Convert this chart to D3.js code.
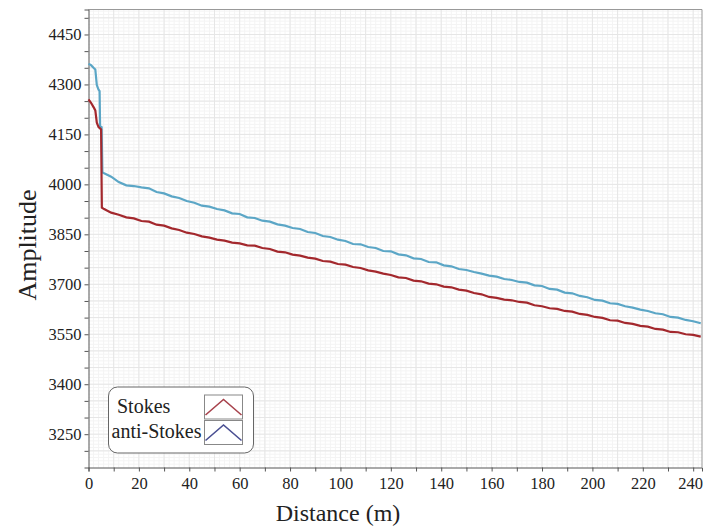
<!DOCTYPE html>
<html>
<head>
<meta charset="utf-8">
<script src="https://cdn.jsdelivr.net/npm/d3@7"></script>
<style>
  body { margin: 0; background: #fff; }
  text { font-family: "Liberation Serif", "DejaVu Serif", serif; fill: #222; }
</style>
</head>
<body>
<div id="chart"></div>
<script>
// head of each trace (before the big drop near 5 m)
var stokesHeadDist = [0, 1, 2, 2.7, 3.3, 4.0, 4.6, 5.0, 5.3];
var stokesHeadAmp  = [4255, 4245, 4232, 4222, 4185, 4172, 4168, 4165, 3930];
var antiHeadDist   = [0, 1, 2, 2.7, 3.3, 4.0, 4.4, 4.6, 5.2, 5.5];
var antiHeadAmp    = [4362, 4358, 4350, 4345, 4298, 4284, 4280, 4175, 4172, 4036];

// rest of the fibre, sampled every 3 m from 6 m to 243 m
var tailDist = d3.range(6, 244, 3);
var stokesTailAmp = [3927, 3915, 3909, 3901, 3898, 3890, 3888, 3879, 3876, 3868,
                     3863, 3855, 3851, 3844, 3840, 3834, 3831, 3825, 3823, 3817,
                     3816, 3809, 3806, 3798, 3796, 3789, 3786, 3780, 3777, 3770,
                     3768, 3761, 3759, 3752, 3749, 3742, 3738, 3732, 3728, 3721,
                     3719, 3711, 3709, 3702, 3700, 3693, 3691, 3684, 3681, 3674,
                     3670, 3662, 3659, 3654, 3652, 3647, 3645, 3637, 3634, 3628,
                     3626, 3620, 3618, 3611, 3608, 3602, 3599, 3592, 3591, 3584,
                     3581, 3575, 3573, 3566, 3564, 3557, 3556, 3550, 3548, 3543];
var antiTailAmp   = [4034, 4023, 4007, 3997, 3995, 3991, 3988, 3977, 3973, 3964,
                     3959, 3950, 3945, 3936, 3933, 3926, 3922, 3913, 3911, 3901,
                     3899, 3891, 3888, 3880, 3876, 3869, 3866, 3857, 3854, 3845,
                     3842, 3834, 3830, 3821, 3820, 3812, 3809, 3800, 3799, 3790,
                     3787, 3778, 3776, 3767, 3766, 3757, 3754, 3746, 3743, 3737,
                     3732, 3726, 3723, 3716, 3713, 3707, 3705, 3697, 3695, 3686,
                     3684, 3675, 3673, 3665, 3661, 3653, 3651, 3643, 3641, 3634,
                     3630, 3624, 3620, 3613, 3610, 3602, 3600, 3593, 3589, 3583];

var xTicks = d3.range(0, 241, 20);
var yTicks = [3250, 3400, 3550, 3700, 3850, 4000, 4150, 4300, 4450];
var seriesNames = ["Stokes", "anti-Stokes"];

var W = 704, H = 529;
var pLeft = 88.5, pRight = 702, pTop = 9.5, pBottom = 467.5;

var svg = d3.select("#chart").append("svg")
            .attr("width", W)
            .attr("height", H);

var x = d3.scaleLinear().domain([0, 243.5]).range([pLeft, pRight]);
var y = d3.scaleLinear().domain([3150, 4525]).range([pBottom, pTop]);

// grid: fine then coarse
var grid = svg.append("g");
grid.selectAll(".vminor").data(d3.range(2, 244, 2)).enter().append("line")
    .attr("x1", d => x(d)).attr("x2", d => x(d))
    .attr("y1", pTop).attr("y2", pBottom)
    .attr("stroke", "#f4f4f4");
grid.selectAll(".hminor").data(d3.range(3160, 4525, 10)).enter().append("line")
    .attr("x1", pLeft).attr("x2", pRight)
    .attr("y1", d => y(d)).attr("y2", d => y(d))
    .attr("stroke", "#f4f4f4");
grid.selectAll(".vmajor").data(d3.range(10, 244, 10)).enter().append("line")
    .attr("x1", d => x(d)).attr("x2", d => x(d))
    .attr("y1", pTop).attr("y2", pBottom)
    .attr("stroke", "#e6e6e6");
grid.selectAll(".hmajor").data(d3.range(3200, 4525, 50)).enter().append("line")
    .attr("x1", pLeft).attr("x2", pRight)
    .attr("y1", d => y(d)).attr("y2", d => y(d))
    .attr("stroke", "#e6e6e6");

// frame (top/right)
svg.append("path")
   .attr("d", "M" + pLeft + "," + pTop + "H" + pRight + "V" + pBottom)
   .attr("fill", "none")
   .attr("stroke", "#999");

// axes
var xAxis = svg.append("g")
   .attr("transform", "translate(0," + pBottom + ")")
   .call(d3.axisBottom(x).tickValues(d3.range(0, 244, 10))
           .tickFormat(d => xTicks.indexOf(d) >= 0 ? d : "")
           .tickSize(4).tickPadding(6));
var yAxis = svg.append("g")
   .attr("transform", "translate(" + pLeft + ",0)")
   .call(d3.axisLeft(y).tickValues(d3.range(3200, 4525, 50))
           .tickFormat(d => yTicks.indexOf(d) >= 0 ? d : "")
           .tickSize(4).tickPadding(3));
[xAxis, yAxis].forEach(function(a) {
    a.select(".domain").attr("stroke", "#555");
    a.selectAll(".tick line").attr("stroke", "#555");
    a.selectAll(".tick text")
     .attr("font-family", "Liberation Serif, serif")
     .attr("font-size", 16.5).attr("fill", "#222");
});
xAxis.selectAll(".tick text").filter(d => d === 240).attr("dx", -3);

// traces
var line = d3.line().x(d => x(d[0])).y(d => y(d[1]));
var stokes = d3.zip(stokesHeadDist.concat(tailDist), stokesHeadAmp.concat(stokesTailAmp));
var anti   = d3.zip(antiHeadDist.concat(tailDist), antiHeadAmp.concat(antiTailAmp));

svg.append("path").datum(anti)
   .attr("d", line).attr("fill", "none")
   .attr("stroke", "#5ba6c6").attr("stroke-width", 2.2);
svg.append("path").datum(stokes)
   .attr("d", line).attr("fill", "none")
   .attr("stroke", "#a3282d").attr("stroke-width", 2.2);

// axis titles
svg.append("text")
   .attr("x", 338).attr("y", 521)
   .attr("text-anchor", "middle")
   .attr("font-size", 24).attr("fill", "#111")
   .text("Distance (m)");
svg.append("text")
   .attr("transform", "translate(36,245) rotate(-90)")
   .attr("text-anchor", "middle")
   .attr("font-size", 26).attr("fill", "#111")
   .text("Amplitude");

// legend
var leg = svg.append("g");
leg.append("rect")
   .attr("x", 108.5).attr("y", 387)
   .attr("width", 145).attr("height", 66)
   .attr("rx", 9)
   .attr("fill", "#fff").attr("stroke", "#666");
var swatchColors = ["#a8434d", "#4a4f92"];
seriesNames.forEach(function(name, i) {
    var sy = 395 + i * 25.5;
    leg.append("text")
       .attr("x", i === 0 ? 117 : 111.5).attr("y", 413 + i * 25)
       .attr("font-size", 20).attr("fill", "#111")
       .text(name);
    leg.append("rect")
       .attr("x", 204.5).attr("y", sy)
       .attr("width", 38).attr("height", 24)
       .attr("fill", "#fff").attr("stroke", "#888");
    leg.append("path")
       .attr("d", "M205.5," + (sy + 20) + "L223.5," + (sy + 4.5) + "L241.5," + (sy + 20))
       .attr("fill", "none")
       .attr("stroke", swatchColors[i]).attr("stroke-width", 1.6);
});
</script>
</body>
</html>
